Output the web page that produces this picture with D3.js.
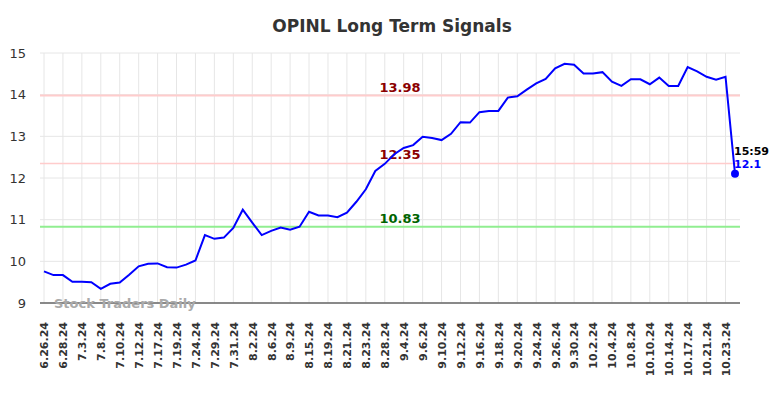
<!doctype html>
<html lang="en">
<head>
<meta charset="utf-8">
<title>OPINL Long Term Signals</title>
<script src="https://cdn.jsdelivr.net/npm/d3@7/dist/d3.min.js"></script>
<style>
	body { margin: 0; background: #fff; }
	text { font-family: "DejaVu Sans", sans-serif; }
	.grid line { stroke: #e6e6e6; stroke-width: 1; }
	.axis path.domain { stroke: none; }
	.axis .tick line { stroke: none; }
</style>
</head>
<body>
<div id="viz"></div>
<script>
// tick labels (one every second trading day)
var dateLabels = ["6.26.24","6.28.24","7.3.24","7.8.24","7.10.24","7.12.24","7.17.24","7.19.24",
	"7.24.24","7.29.24","7.31.24","8.2.24","8.6.24","8.9.24","8.15.24","8.19.24","8.21.24",
	"8.23.24","8.28.24","9.4.24","9.6.24","9.10.24","9.12.24","9.16.24","9.18.24","9.20.24",
	"9.24.24","9.26.24","9.30.24","10.2.24","10.4.24","10.8.24","10.10.24","10.14.24",
	"10.17.24","10.21.24","10.23.24"];

// closing prices
var prices = [9.76,9.67,9.67,9.51,9.51,9.50,9.34,9.46,9.49,9.68,9.88,9.94,9.95,9.86,9.85,9.92,
	10.02,10.63,10.54,10.57,10.80,11.24,10.93,10.63,10.73,10.81,10.76,10.83,11.19,11.10,11.10,
	11.06,11.17,11.43,11.73,12.17,12.34,12.57,12.72,12.79,12.99,12.96,12.91,13.06,13.34,13.33,
	13.58,13.61,13.61,13.93,13.96,14.12,14.27,14.38,14.63,14.74,14.72,14.51,14.51,14.54,14.31,
	14.21,14.37,14.37,14.25,14.41,14.21,14.21,14.66,14.56,14.43,14.36,14.43,12.1];

var yTicks = [9, 10, 11, 12, 13, 14, 15];
var signalValues = [13.98, 12.35, 10.83];
var signalColors = ["#ffcccc", "#ffcccc", "#90ee90"];
var signalWidths = [2, 1.5, 2];
var signalTextColors = ["#8b0000", "#8b0000", "#006400"];
var lastTime = "15:59";

var w = 784, h = 398;
var margin = {top: 53, right: 44, bottom: 95, left: 40};
var width = w - margin.left - margin.right,
	height = h - margin.top - margin.bottom;

var svg = d3.select("#viz").append("svg")
	.attr("width", w)
	.attr("height", h);

svg.append("text")
	.attr("x", w / 2)
	.attr("y", 32)
	.attr("text-anchor", "middle")
	.style("font-size", "17px")
	.style("font-weight", "bold")
	.style("fill", "#333")
	.text("OPINL Long Term Signals");

var g = svg.append("g")
	.attr("transform", "translate(" + margin.left + "," + margin.top + ")");

var xScale = d3.scaleLinear()
	.domain([0, prices.length - 1])
	.range([4, 695]);

var yScale = d3.scaleLinear()
	.domain([9, 15])
	.range([height, 0]);

// grid
var grid = g.append("g").attr("class", "grid");
grid.selectAll("line.h")
	.data(yTicks)
	.enter().append("line")
	.attr("class", "h")
	.attr("x1", 0).attr("x2", width)
	.attr("y1", d => yScale(d)).attr("y2", d => yScale(d));
grid.selectAll("line.v")
	.data(dateLabels)
	.enter().append("line")
	.attr("class", "v")
	.attr("x1", (d, i) => xScale(i * 2)).attr("x2", (d, i) => xScale(i * 2))
	.attr("y1", 0).attr("y2", height);

// y axis labels
var yAxis = d3.axisLeft(yScale)
	.tickValues(yTicks)
	.tickSize(0)
	.tickPadding(14)
	.tickFormat(d3.format("d"));
g.append("g")
	.attr("class", "axis")
	.call(yAxis)
	.selectAll("text")
	.style("font-size", "13px")
	.style("fill", "#333");

// x axis labels
var xAxis = d3.axisBottom(xScale)
	.tickValues(d3.range(0, prices.length, 2))
	.tickSize(0)
	.tickFormat((d) => dateLabels[d / 2]);
g.append("g")
	.attr("class", "axis")
	.attr("transform", "translate(0," + height + ")")
	.call(xAxis)
	.selectAll("text")
	.attr("transform", "rotate(-90)")
	.attr("x", -19)
	.attr("y", 0)
	.attr("dy", "0.35em")
	.attr("text-anchor", "end")
	.style("font-size", "11px")
	.style("font-weight", "bold")
	.style("fill", "#333");

// bottom line
g.append("line")
	.attr("x1", 0).attr("x2", width)
	.attr("y1", height).attr("y2", height)
	.style("stroke", "#666")
	.style("stroke-width", 1.5);

// signal lines
signalValues.forEach(function(v, i) {
	g.append("line")
		.attr("x1", 0).attr("x2", width)
		.attr("y1", yScale(v)).attr("y2", yScale(v))
		.style("stroke", signalColors[i])
		.style("stroke-width", signalWidths[i]);
	g.append("text")
		.attr("x", 360)
		.attr("y", yScale(v) - 4)
		.attr("text-anchor", "middle")
		.style("font-size", "13px")
		.style("font-weight", "bold")
		.style("fill", signalTextColors[i])
		.text(d3.format(".2f")(v));
});

// watermark
g.append("text")
	.attr("x", 14)
	.attr("y", height + 5)
	.style("font-size", "13px")
	.style("font-weight", "bold")
	.style("fill", "#aaa")
	.text("Stock Traders Daily");

// price line
var line = d3.line()
	.x((d, i) => xScale(i))
	.y(d => yScale(d));

g.append("path")
	.datum(prices)
	.attr("d", line)
	.style("fill", "none")
	.style("stroke", "#0000ff")
	.style("stroke-width", 2);

var lastI = prices.length - 1;
g.append("circle")
	.attr("cx", xScale(lastI))
	.attr("cy", yScale(prices[lastI]))
	.attr("r", 4)
	.style("fill", "#0000ff");

g.append("text")
	.attr("x", xScale(lastI) - 1)
	.attr("y", yScale(prices[lastI]) - 19)
	.style("font-size", "11px")
	.style("font-weight", "bold")
	.style("fill", "#000")
	.text(lastTime);

g.append("text")
	.attr("x", xScale(lastI) - 1)
	.attr("y", yScale(prices[lastI]) - 6)
	.style("font-size", "11px")
	.style("font-weight", "bold")
	.style("fill", "#0000ff")
	.text(prices[lastI]);
</script>
</body>
</html>
